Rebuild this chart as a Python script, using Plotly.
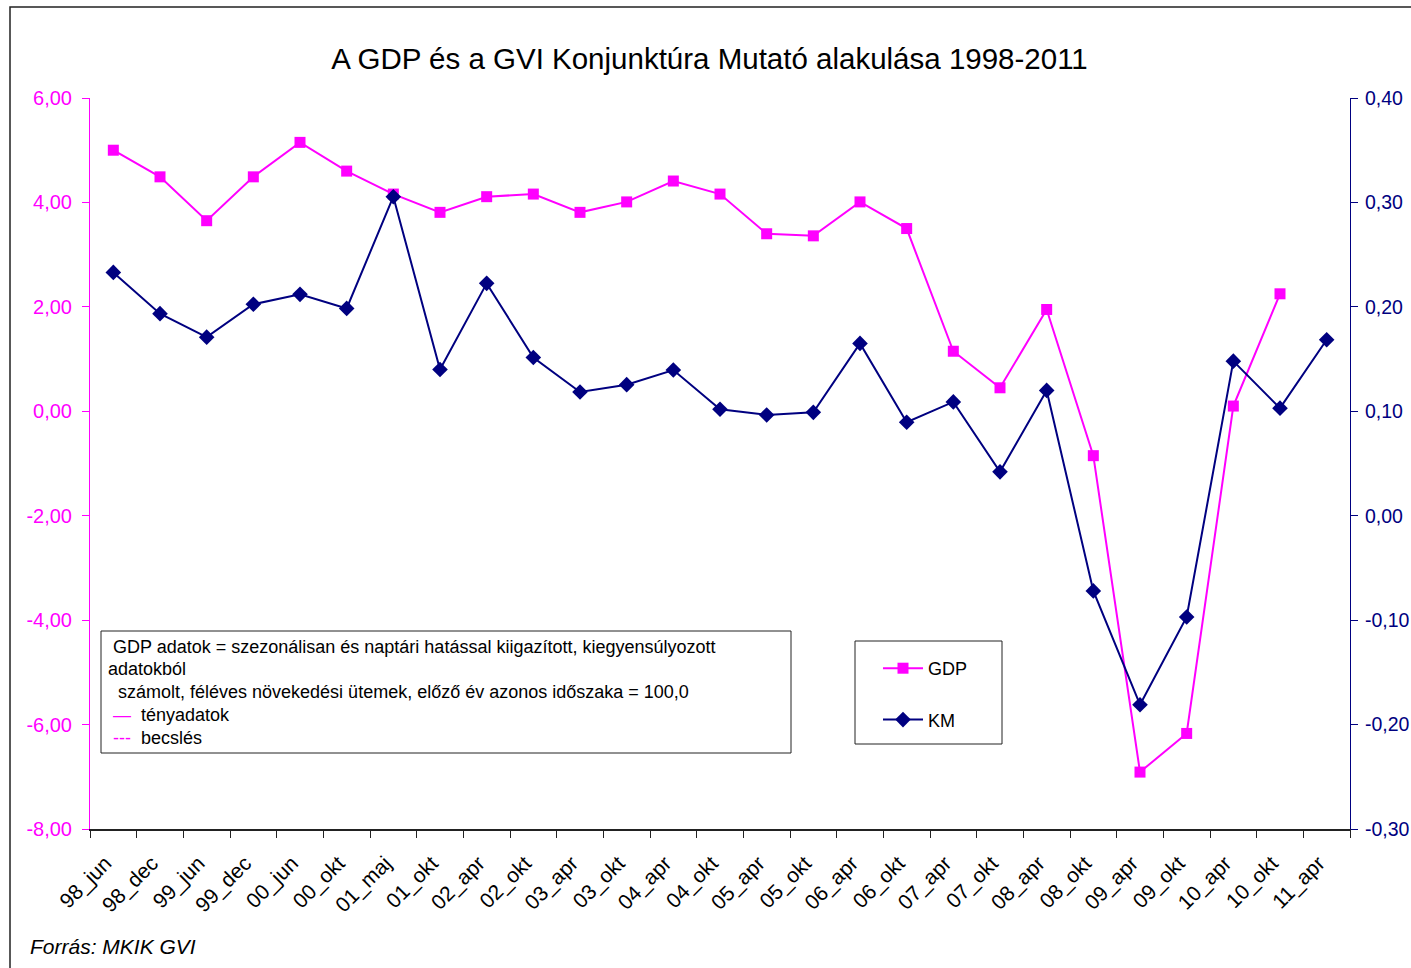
import plotly.graph_objects as go

# half-year periods on the category axis
periods = ["98_jun", "98_dec", "99_jun", "99_dec", "00_jun", "00_okt", "01_maj",
           "01_okt", "02_apr", "02_okt", "03_apr", "03_okt", "04_apr", "04_okt",
           "05_apr", "05_okt", "06_apr", "06_okt", "07_apr", "07_okt", "08_apr",
           "08_okt", "09_apr", "09_okt", "10_apr", "10_okt", "11_apr"]

# GDP growth (left axis), no value yet for 11_apr
gdp = [5.00, 4.49, 3.65, 4.49, 5.15, 4.60, 4.16, 3.81, 4.11, 4.16, 3.81, 4.01,
       4.41, 4.16, 3.40, 3.36, 4.01, 3.50, 1.15, 0.45, 1.95, -0.85, -6.91, -6.17,
       0.10, 2.25, None]

# GVI business climate index KM (right axis)
km = [0.233, 0.1935, 0.171, 0.2025, 0.212, 0.1985, 0.3055, 0.140, 0.2225, 0.1515,
      0.1185, 0.1255, 0.1395, 0.102, 0.0965, 0.099, 0.165, 0.0895, 0.109, 0.042,
      0.120, -0.072, -0.181, -0.097, 0.148, 0.103, 0.1685]

left_ticks = [-8, -6, -4, -2, 0, 2, 4, 6]
left_labels = ["-8,00", "-6,00", "-4,00", "-2,00", "0,00", "2,00", "4,00", "6,00"]
right_ticks = [-0.3, -0.2, -0.1, 0.0, 0.1, 0.2, 0.3, 0.4]
right_labels = ["-0,30", "-0,20", "-0,10", "0,00", "0,10", "0,20", "0,30", "0,40"]

note_lines = [
    "\u00a0GDP adatok = szezonálisan és naptári hatással kiigazított, kiegyensúlyozott",
    "adatokból",
    "\u00a0\u00a0számolt, féléves növekedési ütemek, előző év azonos időszaka = 100,0",
    "\u00a0<span style='color:#FF00FF'>—</span>\u00a0\u00a0tényadatok",
    "\u00a0<span style='color:#FF00FF'>---</span>\u00a0\u00a0becslés",
]

MAGENTA = "#FF00FF"
NAVY = "#000080"
DARK = "#222222"
FONT = "Liberation Sans, Arial, sans-serif"
W, H = 1411, 968
L, R, T, B = 90, 61, 98, 139
PW, PH = W - L - R, H - T - B
NCAT = len(periods)


def px(x):
    return (x - L) / PW


def py(y):
    return (H - B - y) / PH


fig = go.Figure()
fig.add_trace(go.Scatter(x=periods, y=gdp, name="GDP", mode="lines+markers",
                         line=dict(color=MAGENTA, width=2),
                         marker=dict(symbol="square", size=11, color=MAGENTA),
                         legendgroup="a"))
fig.add_trace(go.Scatter(x=periods, y=km, name="KM", mode="lines+markers", yaxis="y2",
                         line=dict(color=NAVY, width=2),
                         marker=dict(symbol="diamond", size=12, color=NAVY),
                         legendgroup="b"))

plain = dict(showgrid=False, zeroline=False, automargin=False)
fig.update_layout(
    template="none",
    width=W, height=H, margin=dict(l=L, r=R, t=T, b=B),
    paper_bgcolor="white", plot_bgcolor="white",
    font=dict(family=FONT, size=20, color="black"),
    title=dict(text="A GDP és a GVI Konjunktúra Mutató alakulása 1998-2011",
               x=709.5 / W, xanchor="center", y=1 - 59 / H, yanchor="middle",
               font=dict(size=29.5, color="black")),
    xaxis=dict(type="category", range=[-0.5, NCAT - 0.5], tickson="boundaries",
               ticks="outside", ticklen=7, tickcolor=DARK, showline=True,
               linecolor=DARK, linewidth=1.5, tickangle=-45,
               ticklabelstandoff=12, ticklabelshift=-8,
               tickfont=dict(size=21, color="black"), **plain),
    # second x axis only to draw the inner half of the crossing ticks
    xaxis2=dict(overlaying="x", anchor="y", range=[-0.5, NCAT - 0.5],
                tickmode="linear", tick0=-0.5, dtick=1, ticks="inside", ticklen=7,
                tickcolor=DARK, showticklabels=False, showline=False, **plain),
    yaxis=dict(range=[-8, 6], tickvals=left_ticks, ticktext=left_labels,
               ticks="outside", ticklen=7, tickcolor=MAGENTA, showline=True,
               linecolor=MAGENTA, linewidth=1, ticklabelstandoff=6,
               tickfont=dict(size=20, color=MAGENTA), **plain),
    yaxis3=dict(overlaying="y", anchor="x", side="left", range=[-8, 6],
                tickvals=left_ticks, ticks="inside", ticklen=7, tickcolor=MAGENTA,
                showticklabels=False, showline=False, **plain),
    yaxis2=dict(range=[-0.3, 0.4], tickvals=right_ticks, ticktext=right_labels,
                overlaying="y", side="right", anchor="x", ticks="outside", ticklen=7,
                tickcolor=NAVY, showline=True, linecolor=NAVY, linewidth=1,
                ticklabelstandoff=3, tickfont=dict(size=19.5, color=NAVY), **plain),
    yaxis4=dict(overlaying="y", anchor="x", side="right", range=[-0.3, 0.4],
                tickvals=right_ticks, ticks="inside", ticklen=7, tickcolor=NAVY,
                showticklabels=False, showline=False, **plain),
    legend=dict(x=px(878), y=py(650), xanchor="left", yanchor="top",
                borderwidth=0, bgcolor="rgba(0,0,0,0)",
                font=dict(size=18, color="black"), tracegroupgap=25, itemwidth=40),
    showlegend=True,
)

# outer chart frame
fig.add_shape(type="rect", xref="paper", yref="paper", x0=px(10), x1=px(1440),
              y0=py(1000), y1=py(7), line=dict(color=DARK, width=1.5))
# legend box
fig.add_shape(type="rect", xref="paper", yref="paper", x0=px(855), x1=px(1002),
              y0=py(744), y1=py(641), line=dict(color=DARK, width=1))
# note box
fig.add_shape(type="rect", xref="paper", yref="paper", x0=px(101), x1=px(791),
              y0=py(753), y1=py(631), line=dict(color=DARK, width=1),
              fillcolor="white", layer="above")
for yy, txt in zip([647, 669, 692, 715, 738], note_lines):
    fig.add_annotation(text=txt, xref="paper", yref="paper", x=px(106), y=py(yy),
                       xanchor="left", yanchor="middle", showarrow=False,
                       font=dict(size=18, color="black"))

fig.add_annotation(text="<i>Forrás: MKIK GVI</i>", xref="paper", yref="paper",
                   x=px(28), y=py(946), xanchor="left", yanchor="middle",
                   showarrow=False, font=dict(size=21, color="black"))

fig.write_html("out.html", config={"displayModeBar": False},
               post_script="document.body.style.margin='0';")
